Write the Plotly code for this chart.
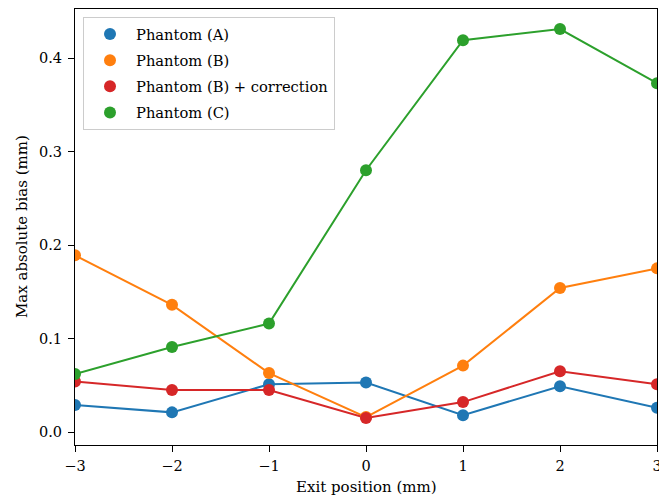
import plotly.graph_objects as go

exit_positions = [-3, -2, -1, 0, 1, 2, 3]
phantom_a = [0.029, 0.021, 0.051, 0.053, 0.018, 0.049, 0.026]
phantom_b = [0.189, 0.136, 0.063, 0.016, 0.071, 0.154, 0.175]
phantom_b_corr = [0.054, 0.045, 0.045, 0.015, 0.032, 0.065, 0.051]
phantom_c = [0.062, 0.091, 0.116, 0.280, 0.419, 0.431, 0.373]

x_tick_vals = [-3, -2, -1, 0, 1, 2, 3]
x_tick_text = ["\u22123", "\u22122", "\u22121", "0", "1", "2", "3"]
y_tick_vals = [0.0, 0.1, 0.2, 0.3, 0.4]
y_tick_text = ["0.0", "0.1", "0.2", "0.3", "0.4"]
x_title = "Exit position (mm)"
y_title = "Max absolute bias (mm)"

series = [
    ("Phantom (A)", phantom_a, "#1f77b4"),
    ("Phantom (B)", phantom_b, "#ff7f0e"),
    ("Phantom (B) + correction", phantom_b_corr, "#d62728"),
    ("Phantom (C)", phantom_c, "#2ca02c"),
]

FONT = "DejaVu Serif"
W, H = 659, 498
ML, MR, MT, MB = 75, 2, 9, 53
PW, PH = W - ML - MR, H - MT - MB

fig = go.Figure()
for name, vals, color in series:
    fig.add_trace(go.Scatter(x=exit_positions, y=vals, mode="lines",
                             line=dict(color=color, width=2), showlegend=False,
                             hoverinfo="skip"))
for i, (name, vals, color) in enumerate(series):
    fig.add_trace(go.Scatter(x=exit_positions, y=vals, mode="markers", name=name,
                             legendgroup=f"g{i}",
                             marker=dict(color=color, size=12)))

fig.update_layout(
    width=W, height=H,
    margin=dict(l=ML, r=MR, t=MT, b=MB),
    plot_bgcolor="white", paper_bgcolor="white",
    font=dict(family=FONT, size=14, color="black"),
    legend=dict(x=8 / PW, y=1 - 8 / PH, xanchor="left", yanchor="top",
                bgcolor="rgba(255,255,255,0.8)", bordercolor="#cccccc", borderwidth=1,
                font=dict(family=FONT, size=14.7), itemsizing="constant",
                traceorder="grouped", tracegroupgap=4, itemwidth=42),
    showlegend=True,
    annotations=[
        dict(text=x_title, xref="paper", yref="paper", x=0.5, y=-42 / PH,
             xanchor="center", yanchor="middle", showarrow=False,
             font=dict(family=FONT, size=15)),
        dict(text=y_title, xref="paper", yref="paper", x=-53 / PW, y=0.5,
             xanchor="center", yanchor="middle", showarrow=False, textangle=-90,
             font=dict(family=FONT, size=15)),
    ],
)
fig.update_xaxes(range=[-3, 3], tickvals=x_tick_vals, ticktext=x_tick_text,
                 showline=True, linecolor="black", linewidth=1, mirror=True,
                 ticks="outside", ticklen=6, tickcolor="black", showgrid=False,
                 zeroline=False, automargin=False, ticklabelstandoff=2,
                 ticklabeloverflow="allow", tickfont=dict(size=14.5))
fig.update_yaxes(range=[-0.0139, 0.4524], tickvals=y_tick_vals, ticktext=y_tick_text,
                 showline=True, linecolor="black", linewidth=1, mirror=True,
                 ticks="outside", ticklen=6, tickcolor="black", showgrid=False,
                 zeroline=False, automargin=False, ticklabelstandoff=3,
                 tickfont=dict(size=14.5))

# remove the default 8px page margin so the figure sits at the window's corner
fig.write_html("out.html", config={"displayModeBar": False},
               post_script="document.body.style.margin='0';document.body.style.overflow='hidden';")
